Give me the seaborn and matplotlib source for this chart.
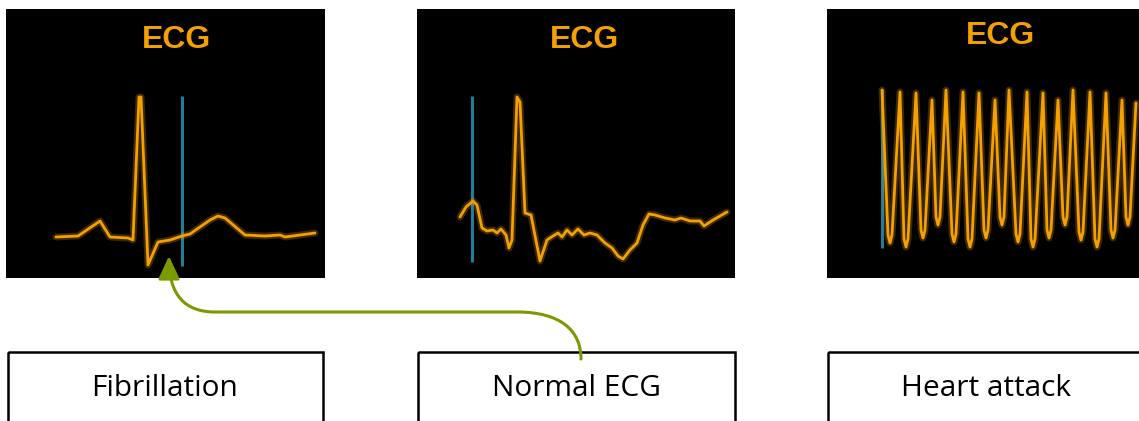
import matplotlib
matplotlib.use("Agg")
import matplotlib.pyplot as plt
import seaborn as sns
from matplotlib.patches import Rectangle, FancyArrowPatch
from matplotlib.path import Path

panel_titles = ["ECG", "ECG", "ECG"]
box_labels = ["Fibrillation", "Normal ECG", "Heart attack"]

fib_t = [50, 72, 94, 104, 122, 127, 133, 135, 142, 152, 164, 176, 184, 204, 212, 219, 239, 259, 274, 279, 294, 309]
fib_v = [41, 42, 57, 41, 40, 38, 181, 181, 13, 36, 38, 42, 44, 58, 62, 60, 43, 42, 43, 41, 43, 45]
fib_cursor = 176

norm_t = [43, 49, 56, 60, 65, 70, 76, 80, 84, 89, 92, 95, 100, 103, 108, 114, 123, 130, 136, 141, 145, 150,
          155, 161, 167, 173, 180, 188, 195, 201, 206, 213, 220, 226, 232, 238, 248, 258, 264, 273, 283,
          287, 296, 303, 310]
norm_v = [61, 71, 77, 73, 50, 47, 48, 45, 49, 43, 30, 38, 181, 176, 65, 63, 17, 38, 42, 45, 41, 48,
          43, 49, 43, 45, 43, 35, 30, 22, 19, 28, 35, 53, 64, 63, 60, 58, 60, 57, 57,
          52, 58, 62, 66]
norm_cursor = 55

va_t = [55, 61, 63, 65, 73, 77, 79, 81, 89, 94, 96, 98, 105, 109, 111, 113,
        119, 125, 127, 129, 136, 141, 143, 145, 152, 157, 159, 161, 168, 173, 175, 177,
        182, 189, 191, 193, 200, 204, 206, 208, 216, 220, 222, 224, 231, 236, 238, 240,
        246, 252, 254, 256, 263, 268, 270, 272, 279, 284, 286, 288, 295, 299, 301, 303, 309]
va_v = [188, 43, 35, 43, 186, 39, 31, 39, 185, 48, 40, 48, 178, 61, 53, 61,
        188, 44, 36, 44, 186, 39, 31, 39, 185, 48, 40, 48, 178, 61, 53, 61,
        188, 44, 36, 44, 186, 39, 31, 39, 185, 48, 40, 48, 178, 61, 53, 61,
        188, 46, 38, 46, 186, 39, 31, 39, 185, 48, 40, 48, 178, 61, 53, 61, 175]
va_cursor = 55

traces = [(fib_t, fib_v, fib_cursor), (norm_t, norm_v, norm_cursor), (va_t, va_v, va_cursor)]

# ---- layout (pixels) ----
W, H = 1139, 421
panels = [(6, 9, 319, 269), (417, 9, 318, 269), (827, 9, 312, 269)]
title_pos = [(176, 40), (585, 40), (1000, 36)]
boxes = [(8, 352, 315), (418, 352, 317), (828, 352, 330)]
label_x = [165, 576, 986]

orange = "#f4a000"
cursor_blue = "#1f7e9e"
green = "#7a9a00"

sns.set_theme(style="white")
plt.rcParams["font.family"] = ["Open Sans", "DejaVu Sans"]

fig = plt.figure(figsize=(W / 100, H / 100), dpi=100)
fig.patch.set_facecolor("white")

for (px, py, pw, ph), (t, v, cur) in zip(panels, traces):
    ax = fig.add_axes([px / W, 1 - (py + ph) / H, pw / W, ph / H])
    ax.set_facecolor("black")
    # soft glow under the trace, like the monitor screenshot
    sns.lineplot(x=t, y=v, ax=ax, color=orange, linewidth=5, alpha=0.25,
                 estimator=None, sort=False)
    sns.lineplot(x=t, y=v, ax=ax, color=orange, linewidth=2.0,
                 estimator=None, sort=False)
    ax.vlines(cur, min(v) - 1, max(v) + 1, color=cursor_blue, linewidth=2.2, zorder=1)
    ax.set_xlim(0, pw)
    ax.set_ylim(0, ph)
    ax.set_xticks([])
    ax.set_yticks([])
    for s in ax.spines.values():
        s.set_visible(False)

# overlay in pixel coordinates for titles, boxes, arrow
ov = fig.add_axes([0, 0, 1, 1], zorder=10)
ov.set_xlim(0, W)
ov.set_ylim(H, 0)
ov.axis("off")
ov.patch.set_alpha(0)

for title, (tx, ty) in zip(panel_titles, title_pos):
    ov.text(tx, ty, title, color=orange, fontsize=23, fontweight="bold",
            family=["Liberation Sans", "DejaVu Sans"], ha="center", va="center")

for label, (bx, by, bw), lx in zip(box_labels, boxes, label_x):
    ov.add_patch(Rectangle((bx, by), bw, 120, fill=False, edgecolor="black", linewidth=1.8))
    ov.text(lx, 389, label, color="black", fontsize=21.5, ha="center", va="center")

verts = [(581, 359), (581, 330), (560, 312), (517, 312),
         (215, 312),
         (185, 312), (169, 295), (169, 256)]
codes = [Path.MOVETO, Path.CURVE4, Path.CURVE4, Path.CURVE4,
         Path.LINETO,
         Path.CURVE4, Path.CURVE4, Path.CURVE4]
arrow = FancyArrowPatch(path=Path(verts, codes), arrowstyle="-|>,head_length=14,head_width=6.5",
                        color=green, linewidth=2.2, mutation_scale=1)
ov.add_patch(arrow)

fig.savefig("out.png", dpi=100, facecolor="white")
